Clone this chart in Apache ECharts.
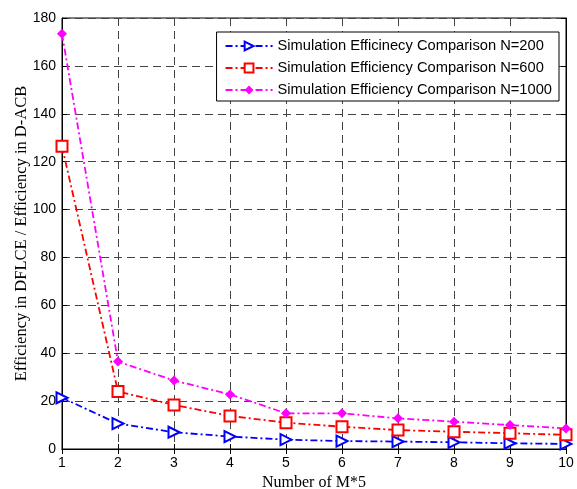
<!DOCTYPE html>
<html><head><meta charset="utf-8">
<script src="https://cdn.jsdelivr.net/npm/echarts@6/dist/echarts.min.js"></script>
<style>html,body{margin:0;padding:0;background:#fff}#c{width:577px;height:489px}</style>
</head><body><div id="c"></div>
<script>
const xValues = [1,2,3,4,5,6,7,8,9,10];
const n200  = [21.4,10.6,7.0,5.2,3.9,3.3,3.1,2.8,2.4,2.1];
const n600  = [126.4,24.0,18.4,13.8,11.0,9.3,7.9,7.2,6.6,5.9];
const n1000 = [173.4,36.5,28.6,22.8,14.9,14.9,12.8,11.4,10.0,8.6];
const seriesNames = ['Simulation Efficinecy Comparison N=200','Simulation Efficiency Comparison N=600','Simulation Efficiency Comparison N=1000'];
const xTitle = 'Number of M*5';
const yTitle = 'Efficiency in DFLCE / Efficiency in D-ACB';

const chart = echarts.init(document.getElementById('c'), null, {renderer:'canvas'});
const dash = [7,3,2,3];
const pair = (arr) => xValues.map((x,i)=>[x,arr[i]]);
const axisFont = {fontFamily:'Liberation Sans', fontSize:14, color:'#000'};
const gridLine = {show:true,lineStyle:{color:'#444',type:[8,5],width:1}};
chart.setOption({
  animation:false,
  backgroundColor:'#fff',
  grid:{left:62,right:11,top:18,bottom:40,show:true,borderColor:'#000',borderWidth:1,
        containLabel:false, outerBoundsMode:'none'},
  legend:{
    right:18, top:32, orient:'vertical', itemGap:6, itemWidth:47, itemHeight:11,
    backgroundColor:'#fff', borderColor:'#000', borderWidth:1, padding:[6,7,3,8],
    textStyle:{fontFamily:'Liberation Sans', fontSize:14.7, lineHeight:16, color:'#000'},
    data:seriesNames
  },
  xAxis:[{
    type:'value', min:1, max:10, interval:1,
    name:xTitle, nameLocation:'middle', nameGap:26, nameMoveOverlap:false,
    nameTextStyle:{fontFamily:'Liberation Serif', fontSize:16, color:'#000'},
    axisLine:{lineStyle:{color:'#000'}},
    axisTick:{inside:true,length:5,lineStyle:{color:'#000'}},
    axisLabel:Object.assign({margin:7},axisFont),
    splitLine:gridLine
  },{
    type:'value', min:1, max:10, interval:1, position:'top',
    axisLine:{lineStyle:{color:'#000'}},
    axisTick:{inside:true,length:5,lineStyle:{color:'#000'}},
    axisLabel:{show:false}, splitLine:{show:false}
  }],
  yAxis:[{
    type:'value', min:0, max:180, interval:20,
    name:yTitle, nameLocation:'middle', nameGap:32, nameMoveOverlap:false,
    nameTextStyle:{fontFamily:'Liberation Serif', fontSize:16.5, color:'#000'},
    axisLine:{show:true,lineStyle:{color:'#000'}},
    axisTick:{show:true,inside:true,length:5,lineStyle:{color:'#000'}},
    axisLabel:Object.assign({margin:6},axisFont),
    splitLine:gridLine
  },{
    type:'value', min:0, max:180, interval:20, position:'right',
    axisLine:{show:true,lineStyle:{color:'#000'}},
    axisTick:{show:true,inside:true,length:5,lineStyle:{color:'#000'}},
    axisLabel:{show:false}, splitLine:{show:false}
  }],
  series:[
    {name:seriesNames[0], type:'line', data:pair(n200), color:'#0000ff',
     symbol:'emptyTriangle', symbolRotate:-90, symbolSize:11,
     lineStyle:{color:'#0000ff',width:1.8,type:dash},
     itemStyle:{color:'#0000ff',borderWidth:1.8}},
    {name:seriesNames[1], type:'line', data:pair(n600), color:'#ff0000',
     symbol:'emptyRect', symbolSize:11,
     lineStyle:{color:'#ff0000',width:1.8,type:dash},
     itemStyle:{color:'#ff0000',borderWidth:1.8}},
    {name:seriesNames[2], type:'line', data:pair(n1000), color:'#ff00ff',
     symbol:'diamond', symbolSize:10,
     lineStyle:{color:'#ff00ff',width:1.8,type:dash},
     itemStyle:{color:'#ff00ff'}}
  ]
});
</script></body></html>
